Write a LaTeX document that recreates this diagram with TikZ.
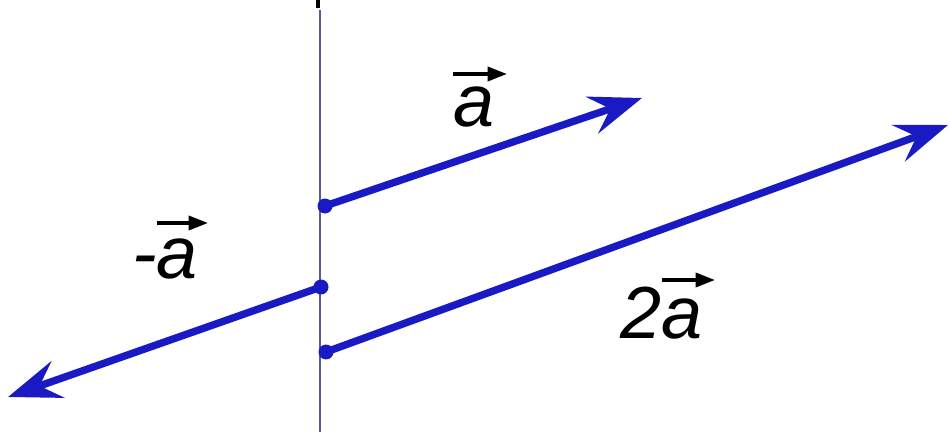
\documentclass[tikz,border=0pt]{standalone}
\usepackage{fontspec}
\setmainfont{Liberation Sans}
\usetikzlibrary{arrows.meta}
\definecolor{VecBlue}{RGB}{26,26,196}
\definecolor{AxisGray}{RGB}{90,90,150}
\tikzset{
  dot/.style={circle,fill=VecBlue,inner sep=0pt,minimum size=0.3cm},
  vec/.style={draw=VecBlue,line width=4.2pt,-{Stealth[length=30pt,width=22pt,inset=11pt]}},
  axis/.style={draw=AxisGray,line width=1pt},
  lbl/.style={inner sep=0pt,anchor=base west,font=\fontsize{42}{48}\selectfont\itshape},
  accent/.style={draw=black,line width=2pt,-{Triangle[length=11pt,width=8pt]}},
}

\begin{document}
\begin{tikzpicture}[x=0.02cm,y=-0.02cm]
\useasboundingbox (0,0) rectangle (950,432);
\coordinate (t0) at (318,0);
\coordinate (t1) at (318,8);
\coordinate (top) at (320,10);
\coordinate (bot) at (320,432);
\draw[line width=2.5pt] (t0)--(t1);
\draw[axis] (top)--(bot);
\node[dot] (a0) at (325,206) {};
\node[dot] (m0) at (321,287) {};
\node[dot] (d0) at (326,352) {};
\coordinate (a1) at (642,98);
\coordinate (m1) at (8,397);
\coordinate (d1) at (948,125);
\draw[vec] (a0.center)--(a1);
\draw[vec] (m0.center)--(m1);
\draw[vec] (d0.center)--(d1);
\node[lbl] (la) at (453,127) {a};
\node[lbl] (lm) at (132,278) {-a};
\node[lbl] (ld) at (620,338) {2a};
\draw[accent] (la.base west) ++(0,-53) -- ++(54,0);
\draw[accent] (lm.base west) ++(25,-55) -- ++(51,0);
\draw[accent] (ld.base west) ++(42,-58) -- ++(53,0);
\end{tikzpicture}
\end{document}
